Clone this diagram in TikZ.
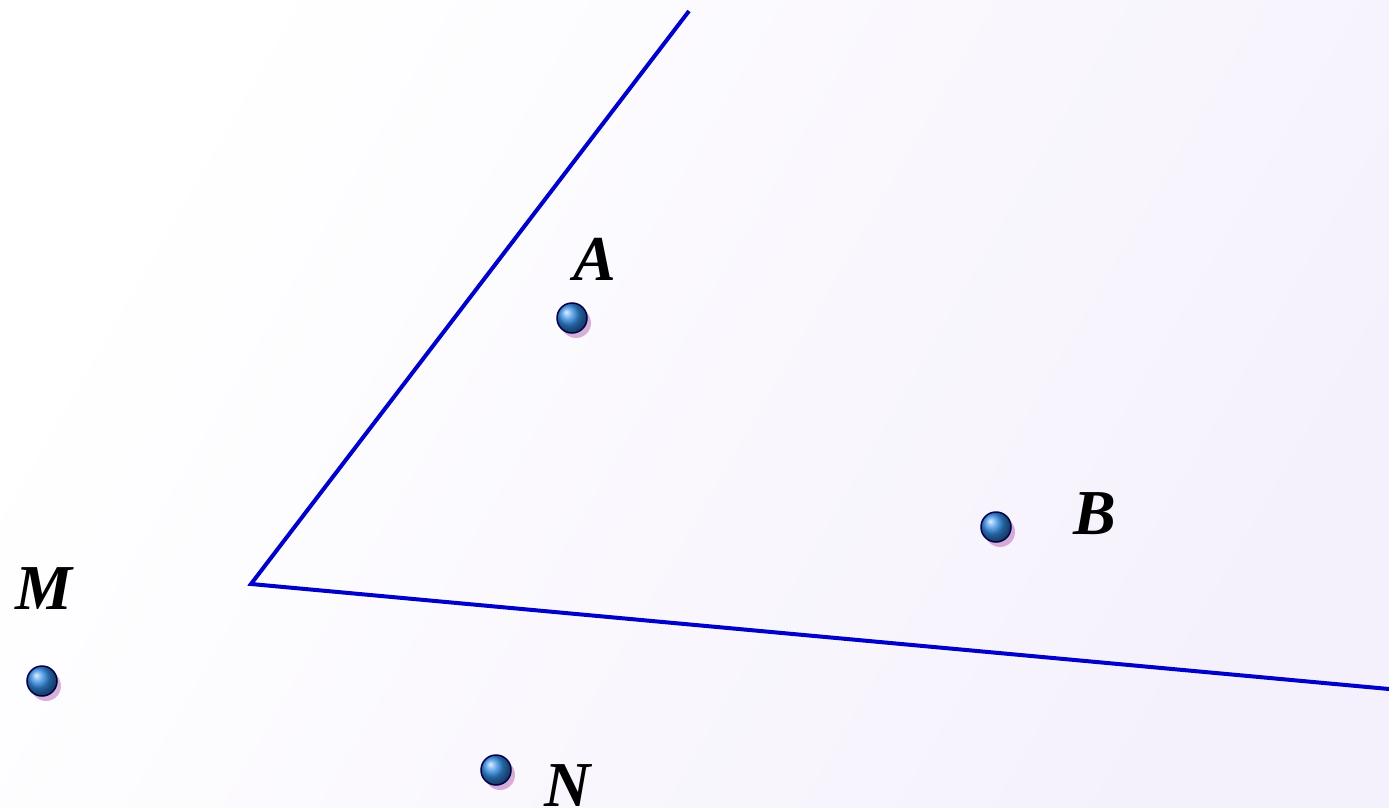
\documentclass[tikz,border=0pt]{standalone}
\usepackage{fontspec}
\setmainfont{Liberation Serif}
\begin{document}
\begin{tikzpicture}[x=1pt,y=-1pt,
  pt/.style={circle,inner sep=0pt,minimum size=30pt,draw=black!70!blue,line width=1.5pt,ball color={rgb,255:red,50;green,140;blue,230}},
  shadowdot/.style={circle,inner sep=0pt,minimum size=30pt,fill=violet!60,opacity=0.5},
  lbl/.style={font=\fontsize{64}{68}\selectfont\bfseries\itshape,text=black,inner sep=0pt},
  ray/.style={draw={rgb,255:red,0;green,0;blue,200},line width=4pt}]
\definecolor{bgr}{RGB}{245,241,252}
\useasboundingbox (0,0) rectangle (1389,808);
\shade[left color=white,right color=bgr,shading angle=60] (0,0) rectangle (1389,808);
% rays
\coordinate (O) at (251,584);
\coordinate (P) at (689,11);
\coordinate (Q) at (1389,689);
\draw[ray] (P) -- (O) -- (Q);
% points
\foreach \n/\x/\y in {A/572/318,B/996/527,M/42/681,N/496/770}{
  \node[shadowdot] at (\x+4,\y+5) {};
  \node[pt] (\n) at (\x,\y) {};
}
\node[lbl] (lA) at (595,259) {A};
\node[lbl] (lB) at (1095,514) {B};
\node[lbl] (lM) at (44,589) {M};
\node[lbl] (lN) at (568,786) {N};
\end{tikzpicture}
\end{document}
